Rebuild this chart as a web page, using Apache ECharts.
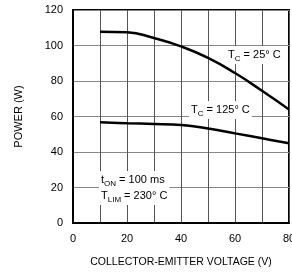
<!DOCTYPE html>
<html>
<head>
<meta charset="utf-8">
<script src="https://cdn.jsdelivr.net/npm/echarts@6/dist/echarts.min.js"></script>
<style>
  html, body { margin: 0; padding: 0; background: #fff; }
  #chart { width: 292px; height: 274px; }
</style>
</head>
<body>
<div id="chart"></div>
<script>
// collector-emitter voltage (V)
const volts = [10, 20, 30, 40, 50, 60, 70, 80];
// power (W), Tc = 25 C
const power25 = [107.8, 107.5, 104.2, 99.5, 93, 84.5, 74.5, 64];
// power (W), Tc = 125 C
const power125 = [56.7, 56.2, 55.8, 55.2, 53.3, 50.5, 47.7, 44.9];
const xTicks = [0, 20, 40, 60, 80];

const font = "Liberation Sans";
const chart = echarts.init(document.getElementById("chart"));

const richStyles = {
  b: { fontSize: 11, lineHeight: 16, fontFamily: font, color: "#000" },
  s: { fontSize: 8, lineHeight: 9, verticalAlign: "bottom", fontFamily: font, color: "#000" },
};

function label(text, left, top) {
  return {
    type: "text",
    left: left,
    top: top,
    z: 50,
    style: {
      text: text,
      rich: richStyles,
      backgroundColor: "#fff",
      padding: [1, 2],
    },
  };
}

chart.setOption({
  animation: false,
  grid: {
    left: 73, right: 3, top: 10, bottom: 51,
    outerBoundsMode: "none",
    containLabel: false,
    show: true, borderColor: "#000", borderWidth: 2,
  },
  xAxis: {
    type: "value",
    min: 0, max: 80, interval: 10,
    name: "COLLECTOR-EMITTER VOLTAGE (V)",
    nameLocation: "middle",
    nameGap: 34,
    nameTextStyle: { fontFamily: font, fontSize: 10.5, color: "#000" },
    axisLine: { lineStyle: { color: "#000", width: 2 } },
    axisTick: { show: false },
    axisLabel: {
      fontFamily: font, fontSize: 11, color: "#000", margin: 10,
      hideOverlap: false,
      formatter: (v) => (xTicks.includes(v) ? String(v) : ""),
    },
    splitLine: { lineStyle: { color: "#555", width: 1 } },
  },
  yAxis: {
    type: "value",
    min: 0, max: 120, interval: 20,
    name: "POWER (W)",
    nameLocation: "middle",
    nameGap: 49,
    nameTextStyle: { fontFamily: font, fontSize: 11, color: "#000" },
    axisLine: { show: true, lineStyle: { color: "#000", width: 2 } },
    axisTick: { show: false },
    axisLabel: { fontFamily: font, fontSize: 11, color: "#000", margin: 10 },
    splitLine: { lineStyle: { color: "#888", width: 1 } },
  },
  series: [
    {
      type: "line",
      data: volts.map((v, i) => [v, power25[i]]),
      smooth: 0.5,
      showSymbol: false,
      lineStyle: { color: "#000", width: 2.5 },
    },
    {
      type: "line",
      data: volts.map((v, i) => [v, power125[i]]),
      smooth: 0.4,
      showSymbol: false,
      lineStyle: { color: "#000", width: 2.5 },
    },
  ],
  graphic: [
    label("{b|T}{s|C}{b| = 25° C}", 226, 46),
    label("{b|T}{s|C}{b| = 125° C}", 189, 101),
    label("{b|t}{s|ON}{b| = 100 ms}", 99, 171),
    label("{b|T}{s|LIM}{b| = 230° C}", 99, 187),
  ],
});
</script>
</body>
</html>
